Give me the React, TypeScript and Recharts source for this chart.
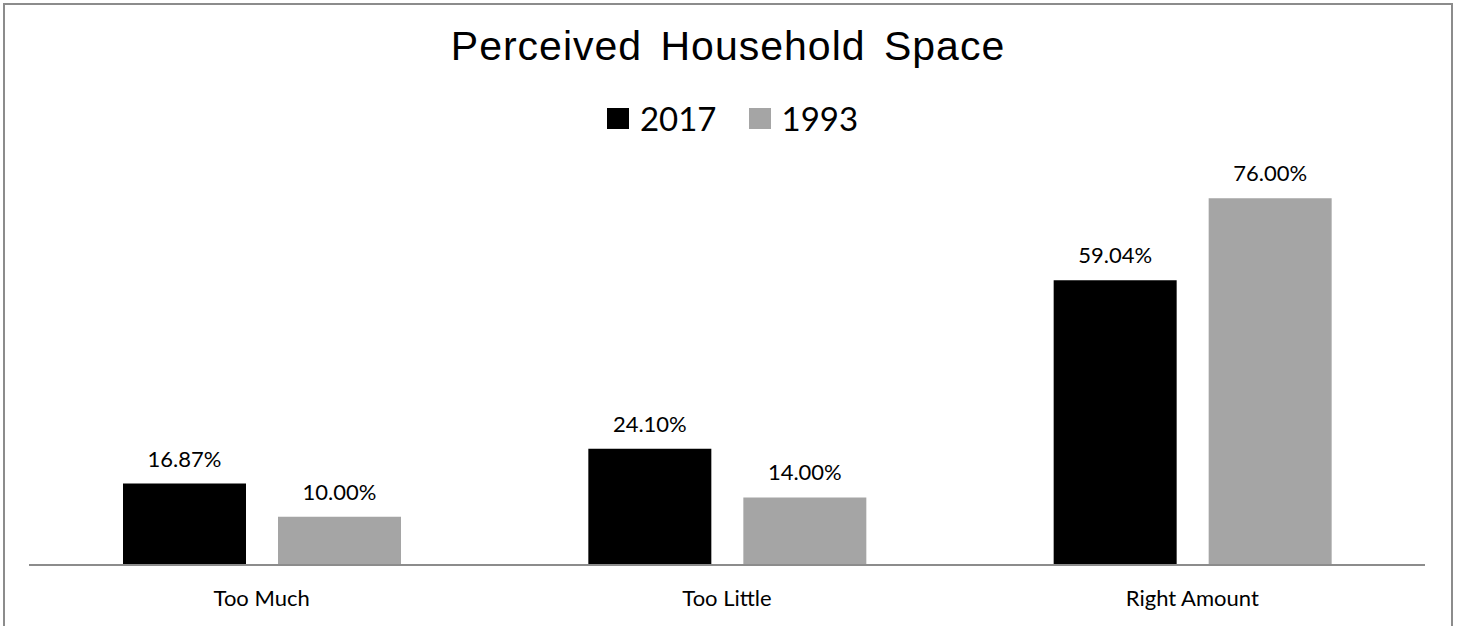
import React from "react";
import { Bar, BarChart, LabelList, XAxis, YAxis } from "recharts";

const categories = ["Too Much", "Too Little", "Right Amount"];
const values2017 = [16.87, 24.1, 59.04];
const values1993 = [10, 14, 76];
const seriesNames = ["2017", "1993"];
const seriesColors = ["#000000", "#a5a5a5"];

const chartData = categories.map((name, i) => ({
  name,
  y2017: values2017[i],
  y1993: values1993[i]
}));

const pct = (v: any) => `${Number(v).toFixed(2)}%`;

const labelStyle = { fill: "#000", fontSize: 22, fontFamily: "Lato, sans-serif" };

function LegendBox() {
  return (
    <div
      style={{
        position: "absolute",
        left: 0,
        top: 98,
        width: 1465,
        display: "flex",
        justifyContent: "center",
        alignItems: "center",
        fontFamily: "Lato, sans-serif",
        fontSize: 33,
        color: "#000"
      }}
    >
      {seriesNames.map((s, i) => (
        <div key={s} style={{ display: "flex", alignItems: "center", marginRight: i === 0 ? 32 : 0 }}>
          <span
            style={{
              display: "inline-block",
              width: 22,
              height: 21,
              background: seriesColors[i],
              marginRight: 11
            }}
          />
          <span>{s}</span>
        </div>
      ))}
    </div>
  );
}

export default function App() {
  return (
    <div
      style={{
        position: "absolute",
        left: 0,
        top: 0,
        width: 1458,
        height: 626,
        background: "#fff",
        overflow: "hidden"
      }}
    >
      <div
        style={{
          position: "absolute",
          left: 3,
          top: 3,
          width: 1446,
          height: 660,
          border: "2px solid #8c8c8c"
        }}
      />
      <div
        style={{
          position: "absolute",
          left: 0,
          top: 23,
          width: 1456,
          textAlign: "center",
          fontFamily: "'Liberation Sans', Arial, sans-serif",
          fontSize: 41,
          letterSpacing: 1,
          wordSpacing: 6,
          color: "#000"
        }}
      >
        Perceived Household Space
      </div>
      <LegendBox />
      <div style={{ position: "absolute", left: 0, top: 0 }}>
        <BarChart
          width={1458}
          height={626}
          data={chartData}
          margin={{ top: 179, right: 33, left: 29, bottom: 21 }}
          barSize={123}
          barGap={32}
        >
          <XAxis
            dataKey="name"
            height={40}
            tickLine={false}
            tickSize={6}
            tickMargin={19}
            axisLine={{ stroke: "#8c8c8c", strokeWidth: 2 }}
            tick={labelStyle}
          />
          <YAxis hide domain={[0, 80]} />
          <Bar dataKey="y2017" name="2017" fill={seriesColors[0]} isAnimationActive={false}>
            <LabelList dataKey="y2017" position="top" offset={17} formatter={pct} style={labelStyle} />
          </Bar>
          <Bar dataKey="y1993" name="1993" fill={seriesColors[1]} isAnimationActive={false}>
            <LabelList dataKey="y1993" position="top" offset={17} formatter={pct} style={labelStyle} />
          </Bar>
        </BarChart>
      </div>
    </div>
  );
}
